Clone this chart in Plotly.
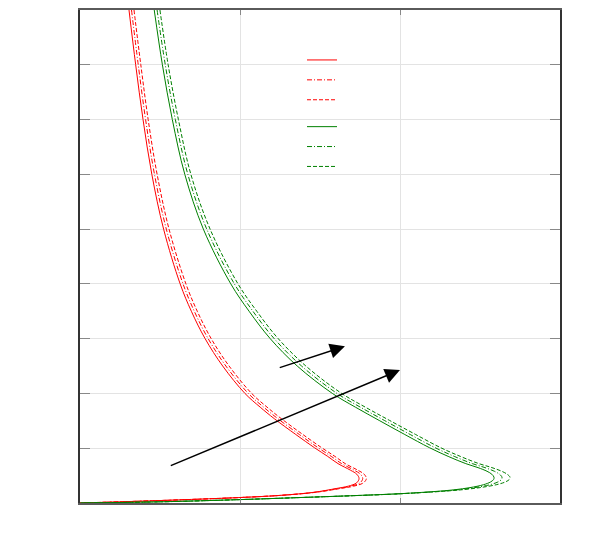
import plotly.graph_objects as go

# ---- data (parametric curves: x then y) ----
red_y = [9, 8, 7, 6, 5, 4, 3.5, 3, 2.5, 2, 1.75, 1.54, 1.25, 1.01, 0.851, 0.719, 0.598, 0.525, 0.447,
         0.368, 0.308, 0.266, 0.194, 0.139, 0.1, 0.045, 0]
red_solid_x = [0.30625, 0.348, 0.394, 0.449, 0.5225, 0.626, 0.696, 0.782, 0.892, 1.031, 1.126, 1.214,
               1.349, 1.465, 1.548, 1.6125, 1.691, 1.73, 1.744, 1.729, 1.677, 1.604, 1.458, 1.25, 1.0, 0.5, 0]
red_dashdot_x = [0.3219, 0.364, 0.41, 0.4655, 0.5395, 0.644, 0.7145, 0.801, 0.912, 1.052, 1.1475, 1.236,
                 1.371, 1.4875, 1.5705, 1.635, 1.714, 1.753, 1.767, 1.75, 1.694, 1.617, 1.464, 1.252, 1.0,
                 0.5, 0]
red_dash_x = [0.3375, 0.38, 0.426, 0.482, 0.5565, 0.662, 0.733, 0.82, 0.932, 1.073, 1.169, 1.258, 1.393,
              1.51, 1.593, 1.6575, 1.737, 1.776, 1.79, 1.771, 1.711, 1.63, 1.47, 1.254, 1.0, 0.5, 0]

green_y = [9, 8, 7, 6, 5, 4, 3.5, 3, 2.5, 2, 1.75, 1.507, 1.25, 1.01, 0.851, 0.719, 0.646, 0.579, 0.525,
           0.471, 0.429, 0.384, 0.333, 0.281, 0.243, 0.217, 0.170, 0.132, 0.0996, 0.062, 0.0217, 0]
green_solid_x = [0.464, 0.515, 0.577, 0.655, 0.771, 0.9425, 1.057, 1.189, 1.358, 1.5775, 1.721, 1.87, 2.03,
                 2.184, 2.301, 2.411, 2.4875, 2.544, 2.574, 2.5875, 2.585, 2.566, 2.521, 2.4375, 2.344, 2.25,
                 2.0, 1.6875, 1.375, 1.0, 0.5, 0]
green_dashdot_x = [0.4818, 0.533, 0.596, 0.674, 0.792, 0.965, 1.081, 1.214, 1.385, 1.6065, 1.752, 1.9025,
                   2.064, 2.219, 2.339, 2.452, 2.531, 2.59, 2.622, 2.6375, 2.634, 2.612, 2.561, 2.4685, 2.367,
                   2.267, 2.0075, 1.6905, 1.375, 1.0, 0.5, 0]
green_dash_x = [0.4996, 0.551, 0.615, 0.693, 0.813, 0.9875, 1.105, 1.239, 1.412, 1.6355, 1.783, 1.935,
                2.098, 2.254, 2.377, 2.493, 2.5745, 2.636, 2.67, 2.6875, 2.683, 2.658, 2.601, 2.4995, 2.39,
                2.284, 2.015, 1.6935, 1.375, 1.0, 0.5, 0]

# arrows (tail -> head) in data units
arrow_tails = [(1.239, 2.463), (0.558, 0.67)]
arrow_heads = [(1.656, 2.862), (2.0, 2.427)]

x_ticks = [0, 1, 2, 3]
y_ticks = [0, 1, 2, 3, 4, 5, 6, 7, 8, 9]

RED = "#ff0000"
GREEN = "#008000"
DASH = "4px,2px"
DASHDOT = "5px,2px,1px,2px"

series = [
    (red_solid_x, red_y, RED, "solid", "red"),
    (red_dashdot_x, red_y, RED, DASHDOT, "red"),
    (red_dash_x, red_y, RED, DASH, "red"),
    (green_solid_x, green_y, GREEN, "solid", "green"),
    (green_dashdot_x, green_y, GREEN, DASHDOT, "green"),
    (green_dash_x, green_y, GREEN, DASH, "green"),
]

fig = go.Figure()
for xs, ys, col, dash, grp in series:
    fig.add_trace(go.Scatter(
        x=xs, y=ys, mode="lines", name="", legendgroup=grp,
        line=dict(color=col, width=1, dash=dash, shape="spline", smoothing=1.0),
    ))

for (tx, ty), (hx, hy) in zip(arrow_tails, arrow_heads):
    fig.add_annotation(x=hx, y=hy, ax=tx, ay=ty, xref="x", yref="y", axref="x", ayref="y",
                       text="", showarrow=True, arrowhead=2, arrowsize=2, arrowwidth=1.5,
                       arrowcolor="black")

axis_common = dict(showticklabels=False, showgrid=True, gridcolor="#e3e3e3", gridwidth=1,
                   showline=True, linewidth=1.5, mirror="allticks",
                   ticks="inside", tickcolor="#888", zeroline=False)

fig.update_xaxes(range=[0, 3], tickvals=x_ticks, ticklen=5, linecolor="#5a5a5a", **axis_common)
fig.update_yaxes(range=[0, 9], tickvals=y_ticks, ticklen=10, linecolor="#333", **axis_common)

fig.update_layout(
    width=574, height=533,
    margin=dict(l=72, r=22, t=0, b=38),
    paper_bgcolor="white", plot_bgcolor="white",
    showlegend=True,
    legend=dict(x=0.4625, y=0.929, xanchor="left", yanchor="top", bgcolor="rgba(0,0,0,0)",
                tracegroupgap=7, font=dict(size=13), traceorder="grouped"),
)

fig.write_html("out.html")
